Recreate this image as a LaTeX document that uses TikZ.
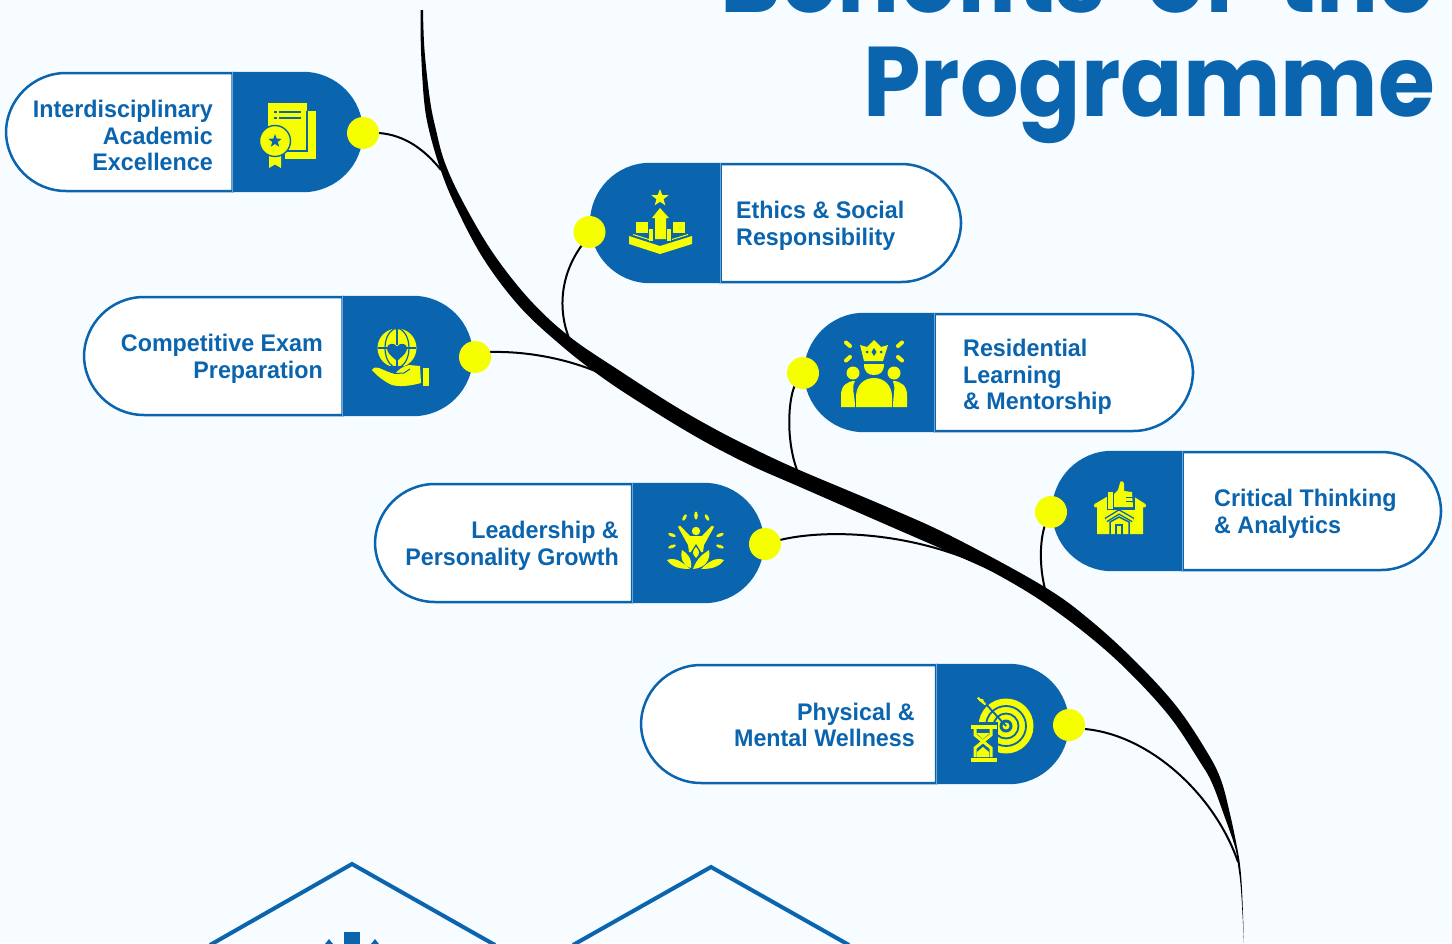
\documentclass[tikz,border=0pt]{standalone}
\usepackage{fontspec}
\usetikzlibrary{shapes.geometric}
\setmainfont[FakeStretch=0.97]{Liberation Sans}
\newfontfamily\titlefont[FakeStretch=0.93]{Poppins}
\definecolor{bgc}{HTML}{F6FCFF}
\definecolor{blu}{HTML}{0A64AE}
\definecolor{yel}{HTML}{F5FF00}
\definecolor{seam}{HTML}{6FA5D2}
\tikzset{
 dotn/.style={circle,fill=yel,minimum size=32pt,inner sep=0pt},
 thin conn/.style={draw=black,line width=2pt},
 lbl/.style={text=blu,inner sep=0pt,font=\fontsize{24}{26.6}\selectfont\bfseries},
 lblr/.style={lbl,align=right,anchor=east},
 lbll/.style={lbl,align=left,anchor=west},
 ttl/.style={text=blu,inner sep=0pt,anchor=base east,font=\titlefont\fontsize{99}{99}\selectfont\bfseries},
 hx/.style={draw=blu,line width=4pt,miter limit=10},
 ico/.style={fill=yel,draw=none},
 icb/.style={fill=blu,draw=none},
 icl/.style={draw=blu,line width=1.4pt},
}
% white left, blue right: x1,split,x2,y1,y2
\newcommand{\pillR}[5]{%
 \path[fill=white,draw=blu,line width=2.5pt] (#2,#4) [rounded corners=60pt] -- (#1,#4) -- (#1,#5) [sharp corners] -- (#2,#5) -- cycle;
 \path[fill=blu] (#2,#4-1.2) [rounded corners=60pt] -- (#3,#4-1.2) -- (#3,#5+1.2) [sharp corners] -- (#2,#5+1.2) -- cycle;
 \draw[seam,line width=.8pt] (#2,#4-1) -- (#2,#5+1);
}
% blue left, white right
\newcommand{\pillL}[5]{%
 \path[fill=white,draw=blu,line width=2.5pt] (#2,#4) [rounded corners=60pt] -- (#3,#4) -- (#3,#5) [sharp corners] -- (#2,#5) -- cycle;
 \path[fill=blu] (#2,#4-1.2) [rounded corners=60pt] -- (#1,#4-1.2) -- (#1,#5+1.2) [sharp corners] -- (#2,#5+1.2) -- cycle;
 \draw[seam,line width=.8pt] (#2,#4-1) -- (#2,#5+1);
}
\begin{document}
\begin{tikzpicture}[x=1pt,y=-1pt]
\useasboundingbox (0,0) rectangle (1452,943);
\clip (0,0) rectangle (1452,943);
\fill[bgc] (0,0) rectangle (1452,943);

% title
\node[ttl] (title1) at (1435,12) {Benefits\hspace{21pt} of\hspace{21pt} the};
\node[ttl] (title2) at (1435,116) {Programme};

% hexagon outlines
\draw[hx] (210,945) -- (352,864) -- (495,945);
\draw[hx] (573,945) -- (711,867) -- (849,945);
\fill[blu] (344,932) rectangle (360,944);
\fill[blu] (325,944) -- (329,939) -- (333,944) -- cycle;
\fill[blu] (371,944) -- (375,939) -- (379,944) -- cycle;

% main branch
\fill[black] plot[smooth,tension=.6] coordinates {(420.5,10) (421,50) (424,100) (429,130) (440,168) (455,205) (483,258) (520,307) (563,347) (603,378) (647,407) (700,439) (750,465) (800,487) (887,525) (967,560) (1000,576) (1043,602) (1090,637) (1130,673) (1170,717) (1200,762) (1212,783) (1224,815) (1235,847) (1238,865) (1241,890) (1244,943)}
 -- plot[smooth,tension=.6] coordinates {(1244,943) (1242,890) (1240,865) (1237,847) (1230,814) (1221,780) (1207,752) (1177,707) (1137,663) (1090,620) (1043,586) (953,537) (887,507) (797,469) (750,447) (713,428) (673,405) (620,371) (570,337) (530,300) (493,253) (463,202) (445,163) (436,130) (430,100) (424.5,50) (423,10)} -- cycle;

% branch joints
\coordinate (j1) at (441,170);
\coordinate (j2) at (569,338);
\coordinate (j3) at (600,373);
\coordinate (j4) at (797,470);
\coordinate (j5) at (1045,589);
\coordinate (j6) at (975,562);
\coordinate (j7) at (1238,862);

% pills
\pillR{6}{232.5}{363}{73}{191}
\pillL{590}{720.5}{961}{164}{282}
\pillR{84}{342.5}{473}{297}{415}
\pillL{804}{934.5}{1193}{314}{431}
\pillL{1052}{1182.5}{1441}{452}{570}
\pillR{375}{632}{764}{484}{602}
\pillR{641}{936}{1069}{665}{783}

\draw[thin conn] (363,133) ++(16,0) coordinate (c1) .. controls (405,135) and (425,150) .. (j1);
\draw[thin conn] (582,245) coordinate (c2) .. controls (560,275) and (558,310) .. (j2);
\draw[thin conn] (490,352) coordinate (c3) .. controls (530,351) and (570,360) .. (j3);
\draw[thin conn] (795,385) coordinate (c4) .. controls (788,400) and (786,440) .. (j4);
\draw[thin conn] (1045,525) coordinate (c5) .. controls (1040,540) and (1039,565) .. (j5);
\draw[thin conn] (780,540) coordinate (c6) .. controls (820,530) and (900,530) .. (j6);
\draw[thin conn] (1085,729) coordinate (c7) .. controls (1150,735) and (1215,795) .. (j7);

% dots
\node[dotn] (d1) at (363,133) {};
\node[dotn] (d2) at (589.5,232) {};
\node[dotn] (d3) at (475,357) {};
\node[dotn] (d4) at (803,373) {};
\node[dotn] (d5) at (1051,512) {};
\node[dotn] (d6) at (765,544) {};
\node[dotn] (d7) at (1069,725) {};

% labels
\node[lblr] (t1) at (213,135.5) {Interdisciplinary\\Academic\\Excellence};
\node[lbll] (t2) at (736,225.5) {Ethics \& Social\\Responsibility};
\node[lblr] (t3) at (323,359) {Competitive Exam\\Preparation};
\node[lbll] (t4) at (963,377) {Residential\\Learning\\\& Mentorship};
\node[lbll] (t5) at (1214,514) {Critical Thinking\\\& Analytics};
\node[lblr] (t6) at (619,546) {Leadership \&\\Personality Growth};
\node[lblr] (t7) at (915,725) {Physical \&\\Mental Wellness};

% icon 1: certificate
\fill[ico] (285,111) rectangle (316,159);
\fill[ico] (268,103) rectangle (307,150);
\draw[icl] (307,111) -- (307,151) -- (285,151);
\draw[blu,line width=1.5pt] (274,112) -- (277,112) (279,112) -- (301,112) (274,118) -- (277,118) (279,118) -- (301,118);
\fill[ico] (269,155) -- (281,155) -- (281,168) -- (275,164.5) -- (269,168) -- cycle;
\path[ico,draw=blu,line width=1.4pt] (275,141) circle (15.5);
\node[star,star points=5,star point ratio=2.4,fill=blu,minimum size=14pt,inner sep=0pt] (s1) at (275,141) {};

% icon 2: podium
\node[star,star points=5,star point ratio=2.4,fill=yel,minimum size=18pt,inner sep=0pt] (s2) at (660,198) {};
\fill[ico] (655,239) -- (655,218) -- (652,218) -- (660,208) -- (669,218) -- (666,218) -- (666,239) -- cycle;
\fill[ico] (636,222) rectangle (648,233);
\fill[ico] (673,222) rectangle (685,233);
\fill[ico] (649,229) rectangle (653,241);
\fill[ico] (667,229) rectangle (671,241);
\fill[ico] (629,236) -- (660,246) -- (692,236) -- (692,244) -- (660,254) -- (629,244) -- cycle;
\draw[yel,line width=1pt] (633,234.5) -- (649,239.5) (672,239.5) -- (688,234.5);

% icon 3: globe in hand
\fill[ico] (397,348) circle (19.5);
\draw[blu,line width=1.2pt] (378,348) -- (416,348) (397,329) -- (397,345) (397,358) -- (397,367);
\draw[blu,line width=1.2pt] (397,348) ellipse (12 and 19.5);
\fill[blu] (397,361) .. controls (390,355) and (386.5,352) .. (387,347.5) .. controls (388,343) and (394,342.5) .. (397,346.5) .. controls (400,342.5) and (406,343) .. (407,347.5) .. controls (407.5,352) and (404,355) .. (397,361) -- cycle;
\fill[blu] (372,366) rectangle (410,372);
\fill[ico] (372,370) .. controls (374,367) and (376,367) .. (379,368) .. controls (384,370) and (390,373) .. (395,374) .. controls (398,370) and (403,366) .. (409,365) -- (420,366) -- (421,383) .. controls (410,386) and (400,387) .. (392,385) .. controls (385,382) and (377,376) .. (372,370) -- cycle;
\draw[blu,line width=1pt] (394,373.5) -- (404,373) -- (410,369);
\fill[ico] (423,368) rectangle (429,386);

% icon 4: people with crown
\fill[ico] (860,345) -- (867,347) -- (874,340) -- (881,347) -- (888,345) -- (883,361) -- (864,361) -- cycle;
\fill[blu] (874,348) -- (876.5,352) -- (874,356) -- (871.5,352) -- cycle (867,352) circle (1.5) (881,352) circle (1.5);
\fill[ico] (864,364) -- (884,364) .. controls (884,372) and (880,375) .. (874,375) .. controls (868,375) and (864,372) .. (864,364) -- cycle;
\fill[ico] (853,373) circle (6.5);
\fill[ico] (894,373) circle (6.5);
\fill[ico] (841,407) -- (841,395) .. controls (841,386) and (847,381) .. (855,381) .. controls (851,388) and (855,395) .. (855,407) -- cycle;
\fill[ico] (907,407) -- (907,395) .. controls (907,386) and (901,381) .. (893,381) .. controls (896,388) and (893,395) .. (893,407) -- cycle;
\fill[ico] (856,407) -- (856,397) .. controls (856,385) and (864,378) .. (874,378) .. controls (884,378) and (892,385) .. (892,397) -- (892,407) -- cycle;
\draw[yel,line width=4pt,line cap=round] (846,342.5) -- (850,346) (846,360.5) -- (850,357) (902,342.5) -- (898,346) (902,360.5) -- (898,357);

% icon 5: house with thumb
\fill[ico] (1097,505) -- (1108,499) -- (1132,499) -- (1143,505) -- (1143,534) -- (1097,534) -- cycle;
\draw[yel,line width=4pt,line cap=round] (1096,505.5) -- (1108,498.5) (1144,505.5) -- (1133,498.5);
\fill[blu] (1106.5,490) rectangle (1134.5,510);
\fill[ico] (1108,492) rectangle (1112.5,509);
\fill[ico] (1114,494) -- (1118,490) -- (1120,483) .. controls (1120,480) and (1124,481) .. (1124,484) -- (1124,491) -- (1132,492) -- (1133,507) -- (1114,507) -- cycle;
\draw[blu,line width=1pt] (1126,497) -- (1133,497) (1126,501) -- (1133,501);
\draw[blu,line width=5pt,line join=round] (1106,520) -- (1119,512) -- (1133,520);
\draw[yel,line width=2.2pt,line join=round] (1106,520) -- (1119,512) -- (1133,520);
\draw[blu,line width=1.5pt] (1110,535) -- (1110,522) -- (1119,517) -- (1129,522) -- (1129,535);
\draw[blu,line width=1.5pt] (1116,535) -- (1116,525) -- (1122,525) -- (1122,535);

% icon 6: lotus figure
\fill[ico] (696,531) circle (4.2);
\fill[ico] (678,527) -- (680,525.5) -- (690,536) -- (702,536) -- (712,525.5) -- (714,527) -- (704,545) -- (703,552) -- (689,552) -- (688,545) -- cycle;
\fill[blu] (696,544) -- (691,552) -- (691,558) -- (701,558) -- (701,552) -- cycle;
\fill[ico] (696,547) .. controls (692,551) and (692,554) .. (696,558) .. controls (700,554) and (700,551) .. (696,547) -- cycle;
\fill[ico] (682,550) .. controls (688,554) and (692,558) .. (691,568) .. controls (683,566) and (680,558) .. (682,550) -- cycle;
\fill[ico] (709,550) .. controls (703,554) and (697,558) .. (693,569) .. controls (705,568) and (711,560) .. (709,550) -- cycle;
\fill[ico] (667,560) .. controls (675,557) and (681,561) .. (690,569) .. controls (679,569) and (672,567) .. (667,560) -- cycle;
\fill[ico] (724,560) .. controls (716,557) and (709,561) .. (701,569) .. controls (712,569) and (719,567) .. (724,560) -- cycle;
\fill[ico] (696,515.5) ellipse (1.8 and 4);
\fill[ico,rotate around={-30:(684.5,517.5)}] (684.5,517.5) ellipse (1.6 and 3.6);
\fill[ico,rotate around={30:(707,517.5)}] (707,517.5) ellipse (1.6 and 3.6);
\fill[ico,rotate around={70:(672,535)}] (672,535) ellipse (1.6 and 4);
\fill[ico,rotate around={-70:(720,535)}] (720,535) ellipse (1.6 and 4);
\fill[ico,rotate around={-70:(672,546.5)}] (672,546.5) ellipse (1.6 and 4);
\fill[ico,rotate around={70:(720,546.5)}] (720,546.5) ellipse (1.6 and 4);

% icon 7: target and hourglass
\fill[ico] (1006,726) circle (27.5);
\draw[blu,line width=1.8pt] (1006,726) circle (20) (1006,726) circle (12.5);
\fill[blu] (1006,726) circle (6.5);
\fill[ico] (1006,726) circle (3.5);
\fill[blu] (968,722) rectangle (998,766);
\draw[blu,line width=1.8pt] (985,703) -- (1006,726);
\draw[yel,line width=2.2pt,line cap=round] (979,699) -- (985,704);
\fill[ico] (977,698) -- (979,697) -- (980,699) -- (983,699) -- (984,702) -- (981,702) -- (979,700) -- cycle;
\fill[ico] (971,725) rectangle (997,728.5);
\fill[ico] (971,758) rectangle (997,761.5);
\draw[yel,line width=3pt] (975,729) -- (975,735) -- (991,748) -- (991,757) (991,729) -- (991,735) -- (975,748) -- (975,757);
\fill[ico] (976,733) -- (990,733) -- (983,739) -- cycle;
\fill[ico] (977,757) -- (977,752) -- (983,747) -- (989,752) -- (989,757) -- cycle;
\end{tikzpicture}
\end{document}
